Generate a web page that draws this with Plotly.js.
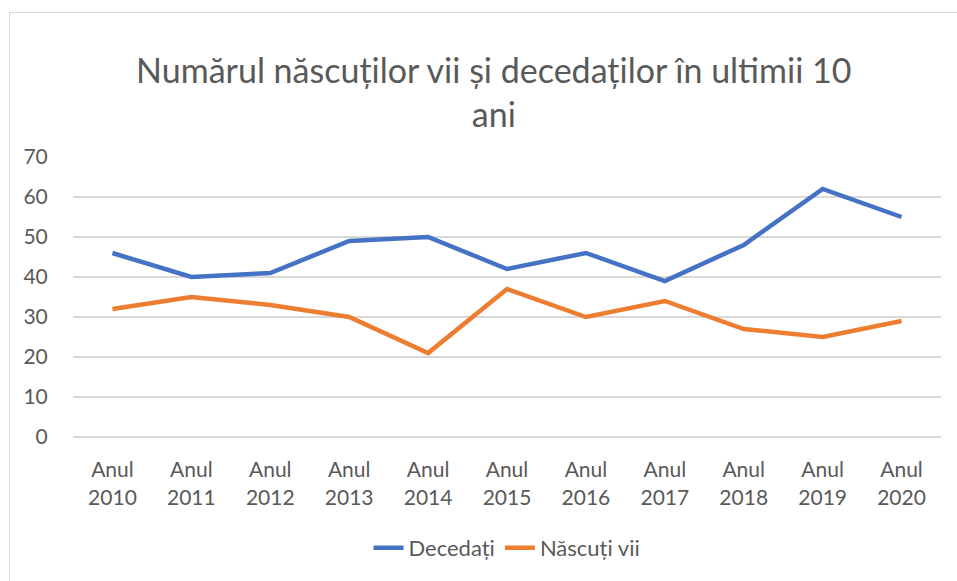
<!DOCTYPE html>
<html><head><meta charset="utf-8">
<script src="https://cdn.plot.ly/plotly-3.0.1.min.js"></script>
<style>
html,body{margin:0;padding:0;background:#fff;}
#frame{position:absolute;left:9px;top:12px;width:960px;height:580px;border-left:1.5px solid #d9d9d9;border-top:1.5px solid #d9d9d9;pointer-events:none;z-index:5;}
#chart{position:absolute;left:0;top:0;width:957px;height:581px;}
</style></head>
<body>
<div id="chart"></div><div id="frame"></div>
<script>
const categories = ["Anul<br>2010","Anul<br>2011","Anul<br>2012","Anul<br>2013","Anul<br>2014","Anul<br>2015","Anul<br>2016","Anul<br>2017","Anul<br>2018","Anul<br>2019","Anul<br>2020"];
const decedati = [46,40,41,49,50,42,46,39,48,62,55];
const nascuti = [32,35,33,30,21,37,30,34,27,25,29];
const yTicks = [0,10,20,30,40,50,60,70];

const font = "Lato, 'Open Sans', sans-serif";
const traces = [
  {x: categories, y: decedati, type:'scatter', mode:'lines', name:'Decedați',
   line:{color:'#4472C4', width:4.5}},
  {x: categories, y: nascuti, type:'scatter', mode:'lines', name:'Născuți vii',
   line:{color:'#ED7D31', width:4.5}}
];
const layout = {
  width:957, height:581,
  margin:{l:73, r:16, t:157, b:144},
  paper_bgcolor:'#fff', plot_bgcolor:'#fff',
  font:{family:font, color:'#595959', size:20},
  title:{text:'Numărul născuților vii și decedaților în ultimii 10<br>ani',
    font:{family:font, size:34, color:'#595959'},
    xref:'container', x:0.516, xanchor:'center',
    yref:'container', y:1-83/581, yanchor:'top'},
  xaxis:{type:'category', range:[-0.5,10.5], showgrid:false, zeroline:false,
    showline:false, ticks:'outside', ticklen:14, tickcolor:'rgba(0,0,0,0)',
    tickfont:{family:font, size:21, color:'#595959'}, fixedrange:true},
  yaxis:{range:[0,70], tickvals:yTicks, showgrid:true, gridcolor:'#d9d9d9', gridwidth:1.3,
    zeroline:true, zerolinecolor:'#d9d9d9', zerolinewidth:1.3, showline:false,
    ticks:'outside', ticklen:20, tickcolor:'rgba(0,0,0,0)',
    tickfont:{family:font, size:21, color:'#595959'}, fixedrange:true},
  showlegend:true,
  legend:{orientation:'h', x:0.5, xanchor:'center', y:-(548-437)/280, yanchor:'middle',
    font:{family:font, size:22, color:'#595959'}, itemwidth:30, tracegroupgap:0}
};
Plotly.newPlot('chart', traces, layout, {displayModeBar:false, staticPlot:true});
</script>
</body></html>
